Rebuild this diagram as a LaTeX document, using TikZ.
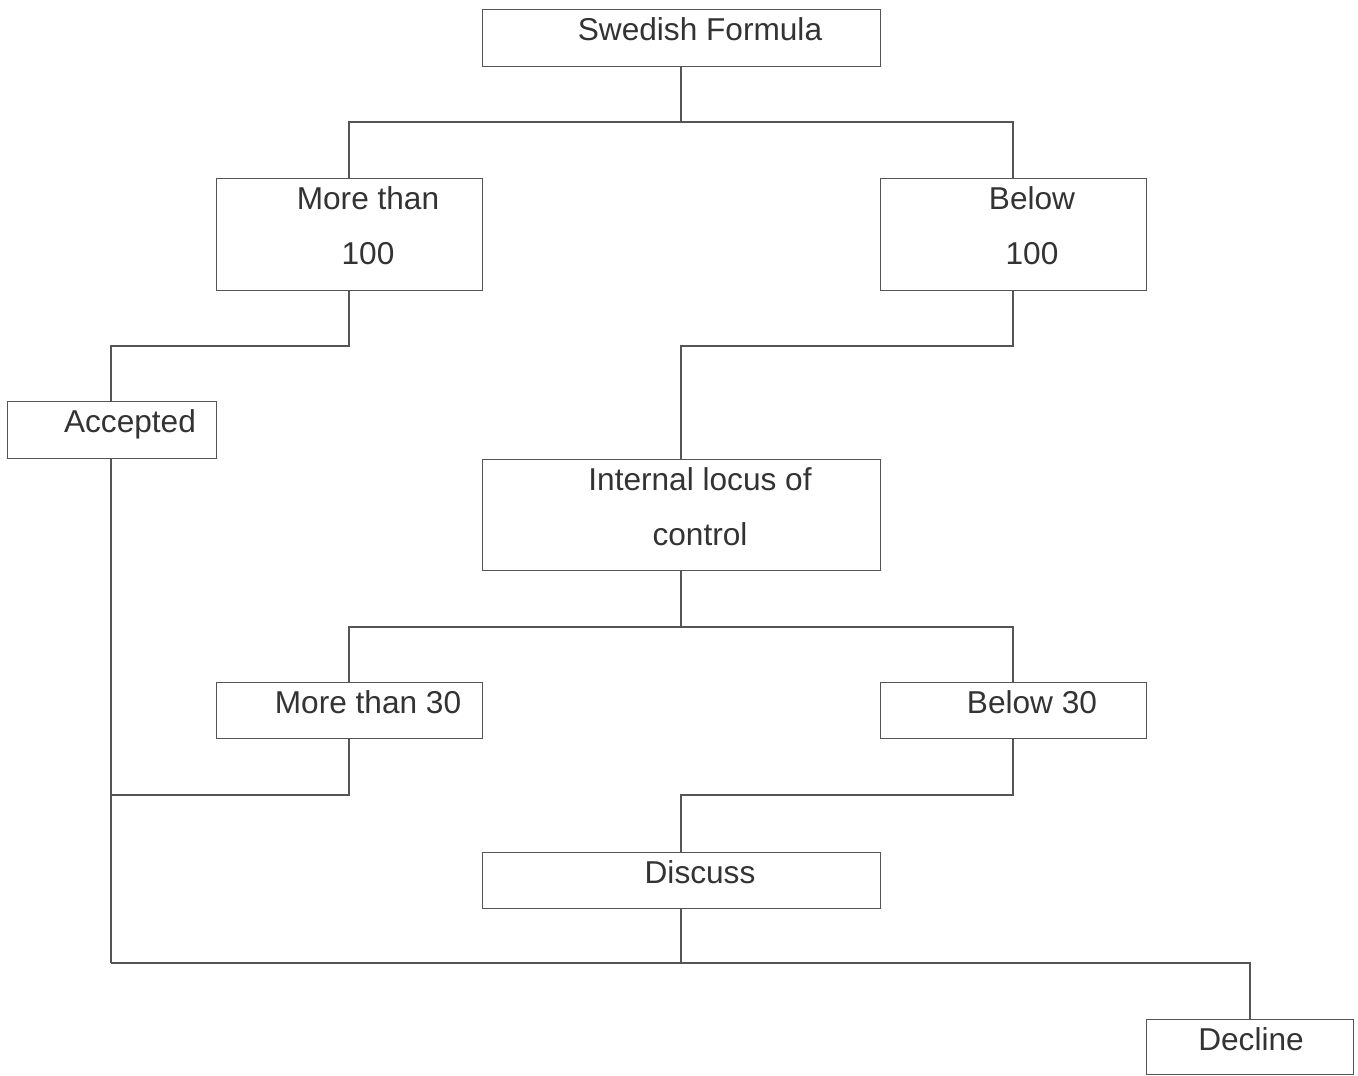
\documentclass[tikz,border=0pt]{standalone}
\usepackage{fontspec}
\setmainfont{Liberation Sans}
\definecolor{ln}{HTML}{555555}
\definecolor{tx}{HTML}{333333}
\begin{document}
\begin{tikzpicture}[x=0.02cm,y=-0.02cm,
  box/.style={draw=ln,line width=0.6pt,rectangle,inner sep=0pt,anchor=north west},
  txt/.style={text=tx,inner sep=0pt,anchor=base,font=\fontsize{18}{18}\selectfont},
  conn/.style={draw=ln,line width=0.6pt}]
\useasboundingbox (0,0) rectangle (1358,1075);
% boxes
\node[box,minimum width=398*0.02cm,minimum height=57*0.02cm] (sf) at (482,9) {};
\node[box,minimum width=266*0.02cm,minimum height=112*0.02cm] (m100) at (216,178) {};
\node[box,minimum width=266*0.02cm,minimum height=112*0.02cm] (b100) at (880,178) {};
\node[box,minimum width=209*0.02cm,minimum height=57*0.02cm] (acc) at (7,401) {};
\node[box,minimum width=398*0.02cm,minimum height=111*0.02cm] (ilc) at (482,459) {};
\node[box,minimum width=266*0.02cm,minimum height=56*0.02cm] (m30) at (216,682) {};
\node[box,minimum width=266*0.02cm,minimum height=56*0.02cm] (b30) at (880,682) {};
\node[box,minimum width=398*0.02cm,minimum height=56*0.02cm] (dis) at (482,852) {};
\node[box,minimum width=207*0.02cm,minimum height=55*0.02cm] (dec) at (1146,1019) {};
% texts
\node[txt] (tsf) at (700,40) {Swedish Formula};
\node[txt] (tm1) at (368,209) {More than};
\node[txt] (tm2) at (368,264) {100};
\node[txt] (tb1) at (1032,209) {Below};
\node[txt] (tb2) at (1032,264) {100};
\node[txt] (tacc) at (130,432) {Accepted};
\node[txt] (ti1) at (700,490) {Internal locus of};
\node[txt] (ti2) at (700,545) {control};
\node[txt] (tm30) at (368,713) {More than 30};
\node[txt] (tb30) at (1032,713) {Below 30};
\node[txt] (tdis) at (700,883) {Discuss};
\node[txt] (tdec) at (1251,1050) {Decline};
% junction coordinates
\coordinate (j1) at (681,122);
\coordinate (j2) at (681,346);
\coordinate (j3) at (681,627);
\coordinate (j4) at (681,795);
\coordinate (j5) at (111,963);
\coordinate (j6) at (111,795);
\coordinate (j7) at (111,346);
% connectors
\draw[conn] (sf.south -| j1) -- (j1);
\draw[conn] (m100.north -| 349,0) |- (j1) -| (b100.north -| 1013,0);
\draw[conn] (m100.south -| 349,0) |- (j7) -- (acc.north -| j7);
\draw[conn] (b100.south -| 1013,0) |- (j2) -- (ilc.north -| j2);
\draw[conn] (ilc.south -| j3) -- (j3);
\draw[conn] (m30.north -| 349,0) |- (j3) -| (b30.north -| 1013,0);
\draw[conn] (m30.south -| 349,0) |- (j6);
\draw[conn] (acc.south -| 111,0) -- (j5);
\draw[conn] (b30.south -| 1013,0) |- (j4) -- (dis.north -| j4);
\draw[conn] (dis.south -| 681,0) -- (681,963);
\draw[conn] (j5) -| (dec.north -| 1250,0);
\end{tikzpicture}
\end{document}
